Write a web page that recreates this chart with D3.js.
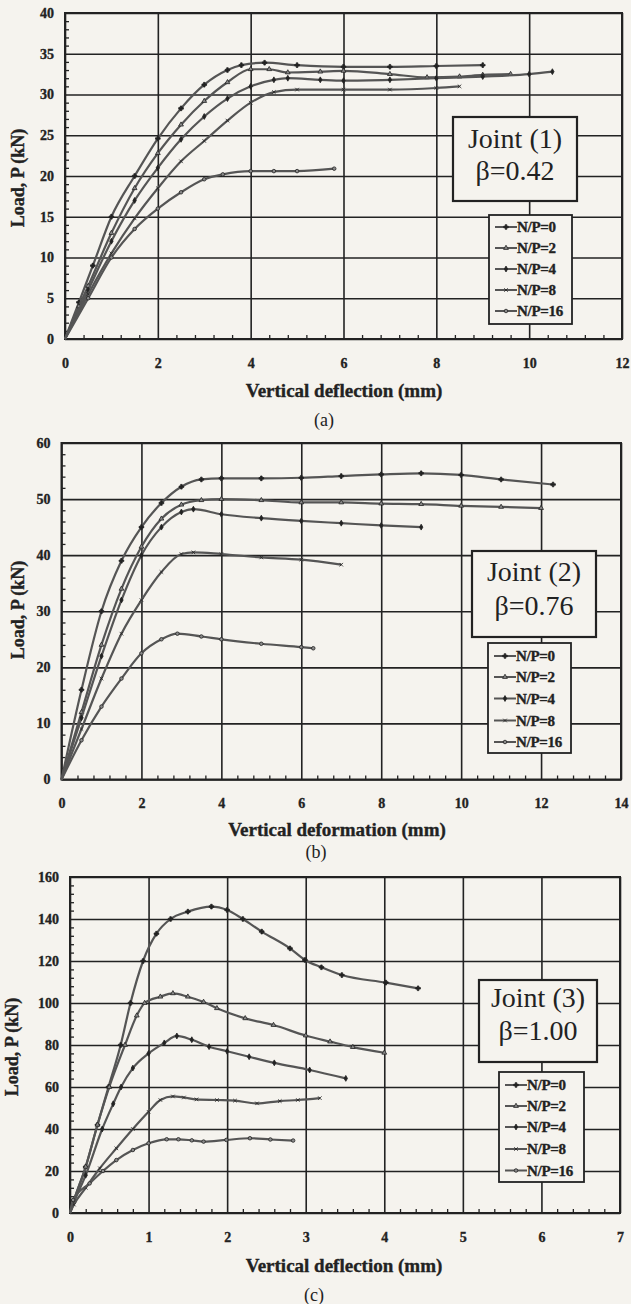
<!DOCTYPE html>
<html>
<head>
<meta charset="utf-8">
<script src="https://cdn.jsdelivr.net/npm/d3@7"></script>
<style>
  html, body { margin: 0; padding: 0; background: #f5f3ee; }
  svg { display: block; }
</style>
</head>
<body>
<svg id="chart" width="631" height="1304"></svg>
<script>
// ---------- DATA ----------
const seriesNames = ["N/P=0", "N/P=2", "N/P=4", "N/P=8", "N/P=16"];

// Joint (1), beta = 0.42
const xTicksA = [0, 2, 4, 6, 8, 10, 12];
const yTicksA = [0, 5, 10, 15, 20, 25, 30, 35, 40];
const a_np0 = [[0,0],[0.3,4.5],[0.6,9],[1,15],[1.5,20],[2,24.6],[2.5,28.3],[3,31.2],[3.5,33],[3.8,33.6],[4.3,33.9],[5,33.6],[6,33.4],[7,33.4],[8,33.5],[9,33.6]];
const a_np2 = [[0,0],[0.3,4],[0.5,6.5],[1,13],[1.5,18.5],[2,22.8],[2.5,26.3],[3,29.2],[3.5,31.5],[4,33.1],[4.4,33.1],[4.8,32.7],[5.5,32.8],[6,32.9],[7,32.5],[7.8,32.1],[8.5,32.2],[9,32.4],[9.6,32.5]];
const a_np4 = [[0,0],[0.5,6],[1,12],[1.5,17],[2,21],[2.5,24.5],[3,27.3],[3.5,29.5],[4,31],[4.5,31.8],[4.8,32],[5.5,31.8],[6,31.7],[7,31.8],[8,32],[9,32.2],[10,32.5],[10.5,32.8]];
const a_np8 = [[0,0],[0.5,5.5],[1,10.5],[1.5,14.8],[2,18.5],[2.5,21.8],[3,24.3],[3.5,26.8],[4,29],[4.5,30.3],[5,30.6],[6,30.6],[7,30.6],[8,30.8],[8.5,31]];
const a_np16 = [[0,0],[0.5,5],[1,10],[1.5,13.5],[2,16],[2.5,18],[3,19.6],[3.4,20.2],[4,20.6],[4.5,20.6],[5,20.6],[5.8,20.9]];

// Joint (2), beta = 0.76
const xTicksB = [0, 2, 4, 6, 8, 10, 12, 14];
const yTicksB = [0, 10, 20, 30, 40, 50, 60];
const b_np0 = [[0,0],[0.5,16],[1,30],[1.5,39],[2,45],[2.5,49.3],[3,52.2],[3.5,53.5],[4,53.7],[5,53.7],[6,53.8],[7,54.1],[8,54.4],[9,54.6],[10,54.3],[11,53.5],[12.3,52.6]];
const b_np2 = [[0,0],[0.5,12],[1,24],[1.5,34],[2,41.5],[2.5,46.5],[3,49],[3.5,49.8],[4,50],[5,49.8],[6,49.4],[7,49.4],[8,49.2],[9,49.1],[10,48.8],[11,48.6],[12,48.4]];
const b_np4 = [[0,0],[0.5,11],[1,22],[1.5,32],[2,40],[2.5,45],[3,47.7],[3.3,48.2],[4,47.3],[5,46.6],[6,46.1],[7,45.7],[8,45.3],[9,45]];
const b_np8 = [[0,0],[0.5,9],[1,18],[1.5,26],[2,32],[2.5,37],[3,40.2],[3.3,40.5],[4,40.2],[5,39.6],[6,39.2],[7,38.3]];
const b_np16 = [[0,0],[0.5,7],[1,13],[1.5,18],[2,22.5],[2.5,25],[2.9,26],[3.5,25.5],[4,25],[5,24.2],[6,23.6],[6.3,23.4]];

// Joint (3), beta = 1.00
const xTicksC = [0, 1, 2, 3, 4, 5, 6, 7];
const yTicksC = [0, 20, 40, 60, 80, 100, 120, 140, 160];
const c_np0 = [[0,0],[0.05,6],[0.2,22],[0.35,42],[0.49,60],[0.645,80],[0.77,100],[0.93,120],[1.1,133],[1.28,140],[1.5,143.5],[1.8,145.9],[2,144.3],[2.2,140],[2.44,134],[2.8,126],[2.99,120.5],[3.2,117],[3.46,113.3],[4.02,109.7],[4.43,107]];
const c_np2 = [[0,0],[0.05,6],[0.2,22],[0.35,42],[0.5,60],[0.7,80],[0.85,94],[0.95,100],[1.15,103],[1.31,104.6],[1.5,103],[1.7,100.5],[1.87,97.5],[2.23,92.7],[2.59,89.5],[3,84.5],[3.31,81.6],[3.6,79],[4,76.3]];
const c_np4 = [[0,0],[0.05,5],[0.2,18],[0.41,40],[0.55,52],[0.65,60],[0.8,69],[1.0,76],[1.2,81],[1.36,84.3],[1.55,82.5],[1.77,79.2],[2,77],[2.28,74.4],[2.6,71.5],[3.05,68.1],[3.51,64.1]];
const c_np8 = [[0,0],[0.05,4],[0.2,12],[0.38,21.3],[0.59,30.8],[0.8,40],[1,48.2],[1.15,53.8],[1.31,55.5],[1.45,55],[1.61,54.1],[1.87,53.8],[2.1,53.5],[2.38,52.2],[2.67,53.3],[2.9,53.8],[3.18,54.7]];
const c_np16 = [[0,0],[0.04,6.2],[0.25,14.1],[0.42,20],[0.59,25.2],[0.8,30],[1,33.2],[1.23,35.1],[1.38,35.1],[1.55,34.6],[1.7,34],[1.99,34.8],[2.29,35.6],[2.55,35],[2.84,34.5]];

// ---------- DRAWING ----------
const svg = d3.select("#chart");
const INK = "#222222";
const LINE = "#555555";
const BG = "#f5f3ee";
const SERIF = "Liberation Serif, Times New Roman, DejaVu Serif, serif";

const markerTypes = [d3.symbolCross, d3.symbolTriangle, d3.symbolDiamond, d3.symbolTimes, d3.symbolCircle];
const markerSizes = [12, 10, 10, 10, 10];

function boldText(sel, size) {
  sel.attr("font-family", SERIF).attr("font-size", size).attr("font-weight", "bold")
    .attr("fill", INK).attr("stroke", INK).attr("stroke-width", 0.35);
}

function drawChart(cfg) {
  const g = svg.append("g");
  const x = d3.scaleLinear().domain([0, cfg.xMax]).range([cfg.left, cfg.right]);
  const y = d3.scaleLinear().domain([0, cfg.yMax]).range([cfg.bottom, cfg.top]);
  const fmt = d3.format("~g");

  // minor ticks
  const xMinor = d3.range(0, cfg.xMax + 1e-9, cfg.xMinorStep).filter(v => !cfg.xTicks.some(t => Math.abs(t - v) < 1e-6));
  const yMinor = d3.range(0, cfg.yMax + 1e-9, cfg.yMinorStep).filter(v => !cfg.yTicks.some(t => Math.abs(t - v) < 1e-6));

  g.append("g").attr("transform", `translate(0,${cfg.bottom})`)
    .call(d3.axisBottom(x).tickValues(xMinor).tickSize(-4).tickFormat(""))
    .call(s => s.select(".domain").remove())
    .call(s => s.selectAll("line").attr("stroke", INK).attr("stroke-width", 1.3));
  g.append("g").attr("transform", `translate(${cfg.left},0)`)
    .call(d3.axisLeft(y).tickValues(yMinor).tickSize(-4).tickFormat(""))
    .call(s => s.select(".domain").remove())
    .call(s => s.selectAll("line").attr("stroke", INK).attr("stroke-width", 1.3));

  // major grid + labels
  g.append("g").attr("transform", `translate(0,${cfg.bottom})`)
    .call(d3.axisBottom(x).tickValues(cfg.xTicks).tickFormat(fmt).tickSize(-(cfg.bottom - cfg.top)).tickPadding(19))
    .call(s => s.select(".domain").remove())
    .call(s => s.selectAll("line").attr("stroke", INK).attr("stroke-width", 1.6))
    .call(s => boldText(s.selectAll("text"), 14));
  g.append("g").attr("transform", `translate(${cfg.left},0)`)
    .call(d3.axisLeft(y).tickValues(cfg.yTicks).tickFormat(fmt).tickSize(-(cfg.right - cfg.left)).tickPadding(11))
    .call(s => s.select(".domain").remove())
    .call(s => s.selectAll("line").attr("stroke", INK).attr("stroke-width", 1.6))
    .call(s => boldText(s.selectAll("text"), 14));

  // frame
  g.append("rect").attr("x", cfg.left).attr("y", cfg.top)
    .attr("width", cfg.right - cfg.left).attr("height", cfg.bottom - cfg.top)
    .attr("fill", "none").attr("stroke", INK).attr("stroke-width", 2);

  // series
  const line = d3.line().x(d => x(d[0])).y(d => y(d[1])).curve(d3.curveMonotoneX);
  cfg.series.forEach((data, i) => {
    g.append("path").datum(data).attr("d", line)
      .attr("fill", "none").attr("stroke", LINE).attr("stroke-width", 2.2);
    g.selectAll(null).data(data.slice(1)).enter().append("path")
      .attr("transform", d => `translate(${x(d[0])},${y(d[1])})`)
      .attr("d", d3.symbol().type(markerTypes[i]).size(markerSizes[i]))
      .attr("fill", i === 1 || i === 4 ? "#8a8a8a" : INK)
      .attr("stroke", INK).attr("stroke-width", 0.8);
  });

  // Joint box
  const jb = cfg.jointBox;
  g.append("rect").attr("x", jb[0]).attr("y", jb[1]).attr("width", jb[2] - jb[0]).attr("height", jb[3] - jb[1])
    .attr("fill", BG).attr("stroke", INK).attr("stroke-width", 2.2);
  const jcx = (jb[0] + jb[2]) / 2;
  [cfg.jointTitle, cfg.betaLabel].forEach((t, k) => {
    g.append("text").attr("x", jcx).attr("y", cfg.jointY[k]).attr("text-anchor", "middle")
      .attr("dominant-baseline", "central")
      .attr("font-family", SERIF).attr("font-size", 28).attr("fill", INK).text(t);
  });

  // legend
  const lb = cfg.legendBox;
  g.append("rect").attr("x", lb[0]).attr("y", lb[1]).attr("width", lb[2] - lb[0]).attr("height", lb[3] - lb[1])
    .attr("fill", BG).attr("stroke", INK).attr("stroke-width", 1.8);
  seriesNames.forEach((name, i) => {
    const ly = cfg.legendY[i];
    g.append("line").attr("x1", lb[0] + 6).attr("x2", lb[0] + 28).attr("y1", ly).attr("y2", ly)
      .attr("stroke", LINE).attr("stroke-width", 2);
    g.append("path").attr("transform", `translate(${lb[0] + 17},${ly})`)
      .attr("d", d3.symbol().type(markerTypes[i]).size(markerSizes[i]))
      .attr("fill", i === 1 || i === 4 ? "#8a8a8a" : INK).attr("stroke", INK).attr("stroke-width", 0.8);
    g.append("text").attr("x", lb[0] + 28).attr("y", ly).attr("dominant-baseline", "central")
      .attr("letter-spacing", -0.3).text(name).call(s => boldText(s, 15));
  });

  // axis titles
  g.append("text").attr("transform", `translate(${cfg.yTitlePos[0]},${cfg.yTitlePos[1]}) rotate(-90)`)
    .attr("text-anchor", "middle").attr("dominant-baseline", "central")
    .text("Load, P (kN)").call(s => boldText(s, 18));
  g.append("text").attr("x", cfg.xTitlePos[0]).attr("y", cfg.xTitlePos[1])
    .attr("text-anchor", "middle").attr("dominant-baseline", "central")
    .text(cfg.xTitle).call(s => boldText(s, 19));
  g.append("text").attr("x", cfg.subPos[0]).attr("y", cfg.subPos[1])
    .attr("text-anchor", "middle").attr("dominant-baseline", "central")
    .attr("font-family", SERIF).attr("font-size", 18).attr("fill", INK)
    .text(cfg.sub);
}

drawChart({
  left: 65, right: 622, top: 13, bottom: 339,
  xMax: 12, yMax: 40, xTicks: xTicksA, yTicks: yTicksA, xMinorStep: 0.4, yMinorStep: 1,
  series: [a_np0, a_np2, a_np4, a_np8, a_np16],
  jointBox: [453, 117, 577, 201], jointY: [138, 170], jointTitle: "Joint (1)", betaLabel: "β=0.42",
  legendBox: [489, 215, 572, 324], legendY: [227, 248, 269, 290, 311],
  yTitlePos: [18, 178], xTitlePos: [344, 390], xTitle: "Vertical deflection (mm)",
  subPos: [324, 420], sub: "(a)"
});

drawChart({
  left: 61.5, right: 621, top: 443, bottom: 779.5,
  xMax: 14, yMax: 60, xTicks: xTicksB, yTicks: yTicksB, xMinorStep: 0.4, yMinorStep: 2,
  series: [b_np0, b_np2, b_np4, b_np8, b_np16],
  jointBox: [472, 551, 596, 637], jointY: [571, 605], jointTitle: "Joint (2)", betaLabel: "β=0.76",
  legendBox: [488, 643, 571, 753], legendY: [656, 677, 698.5, 720.5, 742],
  yTitlePos: [18, 610], xTitlePos: [337, 829], xTitle: "Vertical deformation (mm)",
  subPos: [316, 852], sub: "(b)"
});

drawChart({
  left: 70, right: 620, top: 877, bottom: 1213,
  xMax: 7, yMax: 160, xTicks: xTicksC, yTicks: yTicksC, xMinorStep: 0.2, yMinorStep: 4,
  series: [c_np0, c_np2, c_np4, c_np8, c_np16],
  jointBox: [479, 980, 597, 1062], jointY: [997, 1030], jointTitle: "Joint (3)", betaLabel: "β=1.00",
  legendBox: [499, 1072, 584, 1182], legendY: [1085, 1106, 1127, 1149, 1170.5],
  yTitlePos: [12, 1047], xTitlePos: [344, 1265], xTitle: "Vertical deflection (mm)",
  subPos: [314, 1295], sub: "(c)"
});
</script>
</body>
</html>
